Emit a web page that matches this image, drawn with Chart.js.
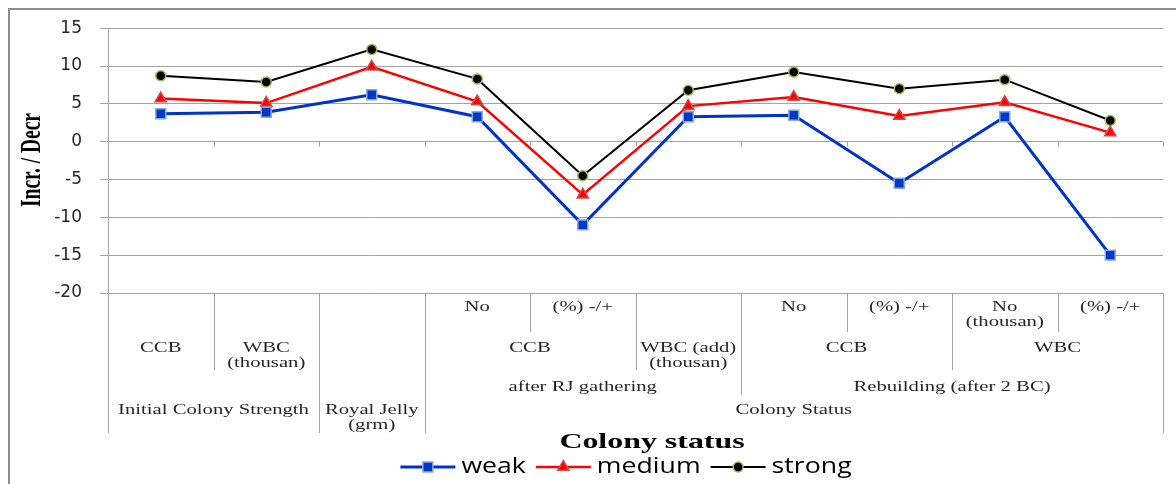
<!DOCTYPE html>
<html>
<head>
<meta charset="utf-8">
<script src="https://cdn.jsdelivr.net/npm/chart.js@4"></script>
<style>
  html, body { margin: 0; padding: 0; background: #fff; }
  #wrap { width: 1176px; height: 484px; position: relative; }
</style>
</head>
<body>
<div id="wrap"><canvas id="chart"></canvas></div>
<script>
// Подписи нижнего уровня оси X (по одной на точку)
const categories = ['', '', '', 'No', '(%) -/+', '', 'No', '(%) -/+', 'No\n(thousan)', '(%) -/+']

// Группы верхних уровней оси X
const groupsLevel2 = [
  { text: 'CCB', from: 0, to: 0 },
  { text: 'WBC\n(thousan)', from: 1, to: 1 },
  { text: '', from: 2, to: 2 },
  { text: 'CCB', from: 3, to: 4 },
  { text: 'WBC (add)\n(thousan)', from: 5, to: 5 },
  { text: 'CCB', from: 6, to: 7 },
  { text: 'WBC', from: 8, to: 9 },
]
const groupsLevel3 = [
  { text: '', from: 0, to: 1 },
  { text: '', from: 2, to: 2 },
  { text: 'after RJ gathering', from: 3, to: 5 },
  { text: 'Rebuilding (after 2 BC)', from: 6, to: 9 },
]
const groupsLevel4 = [
  { text: 'Initial Colony Strength', from: 0, to: 1 },
  { text: 'Royal Jelly\n(grm)', from: 2, to: 2 },
  { text: 'Colony Status', from: 3, to: 9 },
]

// Значения серий
const weak = [3.7, 3.9, 6.2, 3.3, -11, 3.3, 3.5, -5.5, 3.3, -15]
const medium = [5.7, 5.1, 9.9, 5.3, -7, 4.7, 5.9, 3.4, 5.2, 1.2]
const strong = [8.7, 7.9, 12.2, 8.3, -4.5, 6.8, 9.2, 7.0, 8.2, 2.8]

// Деления оси Y
const yTicks = [15, 10, 5, 0, -5, -10, -15, -20]

const seriesNames = ['weak', 'medium', 'strong']

const gridColor = '#a3a3a3'
const textColor = '#262626'

// Внешний вид серий
const seriesValues = [weak, medium, strong]
const lineColors = ['#0033cc', '#ff0000', '#000000']
const markerFills = ['#0038c8', '#ff0000', '#000000']
const markerBorders = ['#86a9e0', '#c8504a', '#9bbb59']
const pointStyles = ['rect', 'triangle', 'circle']
const pointRadii = [7, 6.5, 5]
const lineWidths = [3, 2.5, 2]

// Растянутый по горизонтали текст (как в оригинале)
function stretchedText(ctx, text, x, y, sx) {
  ctx.save()
  ctx.translate(x, y)
  ctx.scale(sx, 1)
  ctx.fillText(text, 0, 0)
  ctx.restore()
}

// Многоуровневая подпись оси X, заголовки и легенда
const chartDecor = {
  id: 'chartDecor',
  afterDraw(chart) {
    const { ctx, chartArea, scales } = chart
    const x = scales.x
    const y = scales.y
    const n = categories.length
    const half = (x.getPixelForValue(1) - x.getPixelForValue(0)) / 2
    const boundary = (k) => x.getPixelForValue(k) - half
    const bottom = chartArea.bottom
    const y0 = y.getPixelForValue(0)

    ctx.save()

    // Рамка вокруг всей диаграммы
    ctx.strokeStyle = '#8c8c8c'
    ctx.lineWidth = 2
    ctx.strokeRect(9, 9, 1400, 800)

    // Засечки на нулевой линии
    ctx.strokeStyle = gridColor
    ctx.lineWidth = 1
    for (let k = 0; k <= n; k++) {
      const bx = Math.round(boundary(k)) + 0.5
      ctx.beginPath()
      ctx.moveTo(bx, y0)
      ctx.lineTo(bx, y0 + 5)
      ctx.stroke()
    }

    // Уровни таблицы подписей
    const leafGroups = categories.map((c, i) => ({ text: c, from: i, to: i }))
    const levels = [leafGroups, groupsLevel2, groupsLevel3, groupsLevel4]
    const rowBottoms = [39, 77, 102, 140]
    const textTops = [14, 55, 94, 117]

    // Вертикальные разделители
    for (let k = 0; k <= n; k++) {
      let depth = 0
      if (k === 0 || k === n) {
        depth = levels.length - 1
      } else {
        levels.forEach((groups, li) => {
          if (groups.some((g) => g.from === k)) depth = li
        })
      }
      const bx = Math.round(boundary(k)) + 0.5
      ctx.beginPath()
      ctx.moveTo(bx, bottom)
      ctx.lineTo(bx, bottom + rowBottoms[depth])
      ctx.stroke()
    }

    // Тексты уровней
    ctx.fillStyle = textColor
    ctx.font = '15px "Liberation Serif", serif'
    ctx.textAlign = 'center'
    ctx.textBaseline = 'middle'
    levels.forEach((groups, li) => {
      groups.forEach((g) => {
        if (!g.text) return
        const cx = (boundary(g.from) + boundary(g.to + 1)) / 2
        g.text.split('\n').forEach((line, j) => {
          stretchedText(ctx, line, cx, bottom + textTops[li] + j * 15, 1.38)
        })
      })
    })

    // Заголовок оси X
    ctx.fillStyle = '#000'
    ctx.font = 'bold 22px "Liberation Serif", serif'
    stretchedText(ctx, 'Colony status', 652, 442, 1.45)

    // Заголовок оси Y (узкий жирный шрифт)
    ctx.save()
    ctx.translate(33, 160)
    ctx.rotate(-Math.PI / 2)
    ctx.font = 'bold 29px "Liberation Serif", serif'
    const tw = ctx.measureText('Incr. / Decr').width
    ctx.scale(94 / tw, 1)
    ctx.fillText('Incr. / Decr', 0, 0)
    ctx.restore()

    // Легенда: линия с маркером и подпись
    const legendY = 467
    const lineLen = 55
    const sx = 1.27
    const gap = 10
    ctx.font = '21px "Open Sans", sans-serif'
    ctx.textAlign = 'left'
    const widths = chart.data.datasets.map(
      (ds) => lineLen + 6 + ctx.measureText(ds.label).width * sx
    )
    const total = widths.reduce((s, w) => s + w, 0) + gap * (widths.length - 1)
    let lx = 626 - total / 2
    chart.data.datasets.forEach((ds, i) => {
      ctx.strokeStyle = ds.borderColor
      ctx.lineWidth = ds.borderWidth
      ctx.beginPath()
      ctx.moveTo(lx, legendY)
      ctx.lineTo(lx + lineLen, legendY)
      ctx.stroke()
      ctx.fillStyle = ds.pointBackgroundColor
      ctx.strokeStyle = ds.pointBorderColor
      ctx.lineWidth = ds.pointBorderWidth
      Chart.helpers.drawPoint(
        ctx,
        { pointStyle: ds.pointStyle, radius: ds.pointRadius, borderWidth: ds.pointBorderWidth },
        lx + lineLen / 2,
        legendY
      )
      ctx.fillStyle = '#000'
      stretchedText(ctx, ds.label, lx + lineLen + 6, legendY, sx)
      lx += widths[i] + gap
    })
    ctx.restore()
  },
}

const datasets = seriesValues.map((values, i) => ({
  label: seriesNames[i],
  data: values,
  borderColor: lineColors[i],
  borderWidth: lineWidths[i],
  tension: 0,
  pointStyle: pointStyles[i],
  pointRadius: pointRadii[i],
  pointHoverRadius: pointRadii[i],
  pointBackgroundColor: markerFills[i],
  pointBorderColor: markerBorders[i],
  pointBorderWidth: 1.5,
}))

new Chart(document.getElementById('chart'), {
  type: 'line',
  data: {
    labels: categories,
    datasets: datasets,
  },
  options: {
    responsive: true,
    maintainAspectRatio: false,
    animation: false,
    layout: {
      padding: { left: 0, top: 26, right: 13, bottom: 0 },
    },
    plugins: {
      legend: { display: false },
      tooltip: { enabled: false },
    },
    scales: {
      x: {
        offset: true,
        grid: { display: false },
        border: { display: false },
        ticks: { display: false },
        afterFit: (scale) => {
          scale.height = 191
        },
      },
      y: {
        min: -20,
        max: 15,
        afterBuildTicks: (scale) => {
          scale.ticks = yTicks.map((v) => ({ value: v }))
        },
        grid: { color: gridColor, tickLength: 8, lineWidth: 1 },
        border: { display: true, color: gridColor },
        ticks: {
          padding: 18,
          color: '#262626',
          font: { family: '"DejaVu Sans", sans-serif', size: 17 },
        },
        afterFit: (scale) => {
          scale.width = 108
        },
      },
    },
  },
  plugins: [chartDecor],
})
</script>
</body>
</html>
